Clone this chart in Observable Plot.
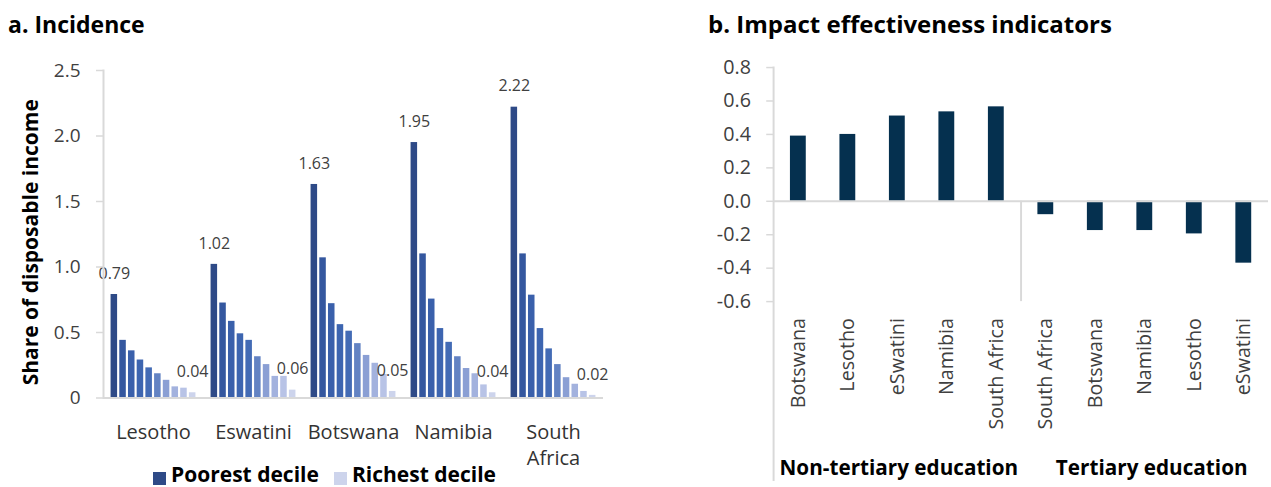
<!DOCTYPE html>
<html><head><meta charset="utf-8">
<script src="https://cdn.jsdelivr.net/npm/d3@7"></script>
<script src="https://cdn.jsdelivr.net/npm/@observablehq/plot@0.6"></script>
<style>
html,body{margin:0;padding:0;background:#fff;}
body{width:1271px;height:487px;overflow:hidden;position:relative;font-family:"Open Sans",sans-serif;}
.title{position:absolute;top:9px;font-weight:700;color:#000;white-space:nowrap;line-height:normal;}
.chart{position:absolute;top:50px;}
.sw{position:absolute;top:472px;width:13px;height:13px;}
.lt{position:absolute;top:460px;font-weight:700;font-size:21px;line-height:normal;color:#000;white-space:nowrap;}
</style></head>
<body>
<div class="title" style="left:8px;font-size:23px;top:8px">a. Incidence</div>
<div class="title" style="left:708px;font-size:24px;top:7px">b. Impact effectiveness indicators</div>
<div id="left" class="chart" style="left:0px"></div>
<div id="right" class="chart" style="left:640px"></div>
<div id="legend"></div>
<script>
// ---------- Panel a data ----------
const countriesA = ["Lesotho", "Eswatini", "Botswana", "Namibia", "South Africa"];
const deciles = [1, 2, 3, 4, 5, 6, 7, 8, 9, 10];
const lesotho     = [0.79, 0.44, 0.36, 0.29, 0.23, 0.185, 0.135, 0.085, 0.075, 0.04];
const eswatini    = [1.02, 0.725, 0.585, 0.49, 0.44, 0.315, 0.255, 0.165, 0.165, 0.06];
const botswana    = [1.63, 1.07, 0.72, 0.56, 0.51, 0.415, 0.325, 0.265, 0.18, 0.05];
const namibia     = [1.95, 1.10, 0.755, 0.53, 0.425, 0.315, 0.225, 0.185, 0.10, 0.04];
const southAfrica = [2.22, 1.10, 0.785, 0.53, 0.375, 0.255, 0.155, 0.105, 0.05, 0.02];
const decileColors = ["#2e4a87", "#34579f", "#3a60ab", "#3d65b0", "#436bb5", "#6383c3", "#8a9fd4", "#a3b2de", "#b8c3e6", "#cdd4ec"];
const yTicksA = [0, 0.5, 1, 1.5, 2, 2.5];
const yLabelA = "Share of disposable income";
const legendLabels = ["Poorest decile", "Richest decile"];

// ---------- Panel b data ----------
const groupNames = ["Non-tertiary education", "Tertiary education"];
const nonTertiaryCountries = ["Botswana", "Lesotho", "eSwatini", "Namibia", "South Africa"];
const nonTertiaryValues = [0.39, 0.40, 0.51, 0.535, 0.565];
const tertiaryCountries = ["South Africa", "Botswana", "Namibia", "Lesotho", "eSwatini"];
const tertiaryValues = [-0.08, -0.175, -0.175, -0.195, -0.37];
const yTicksB = [-0.6, -0.4, -0.2, 0, 0.2, 0.4, 0.6, 0.8];

const axisGray = "#d9d9d9";
const textGray = "#404040";
const font = "Open Sans";

// ---------- Panel a ----------
const seriesA = [lesotho, eswatini, botswana, namibia, southAfrica];
const rowsA = countriesA.flatMap((c, i) => seriesA[i].map((v, j) => ({country: c, decile: deciles[j], value: v})));
const labelRowsA = rowsA.filter(d => d.decile === deciles[0] || d.decile === deciles[deciles.length - 1]);

const left = Plot.plot({
  width: 640, height: 437,
  marginLeft: 103, marginRight: 37, marginTop: 20, marginBottom: 89.5,
  style: {fontFamily: font, fontSize: "16px", background: "transparent", color: textGray},
  fx: {domain: countriesA, paddingInner: 0, paddingOuter: 0, round: false, label: null},
  x: {domain: deciles, paddingInner: 0.25, paddingOuter: 0.87, round: false, axis: null},
  y: {domain: [0, 2.5], label: null},
  color: {type: "ordinal", domain: deciles, range: decileColors},
  marks: [
    Plot.barY(rowsA, {fx: "country", x: "decile", y: "value", fill: "decile"}),
    Plot.ruleY([0], {stroke: axisGray, strokeWidth: 2}),
    Plot.text(labelRowsA, {fx: "country", x: "decile", y: "value", text: d => d.value.toFixed(2),
      dy: -21, fontSize: 16, fill: textGray}),
    Plot.axisY({ticks: yTicksA, tickFormat: d => d === 0 ? "0" : d.toFixed(1), tickSize: 7, tickPadding: 16,
      stroke: axisGray, strokeWidth: 1.5, fill: textGray, fontSize: 19, label: null}),
    Plot.axisFx({anchor: "bottom", tickSize: 0, tickPadding: 22.6, fontSize: 20, fill: "#333",
      label: null, lineHeight: 1.3, tickFormat: d => d.replace(" ", "\n")}),
    Plot.frame({anchor: "left", facet: "super", stroke: axisGray, strokeWidth: 2}),
    Plot.text([{fx: countriesA[0], t: yLabelA}], {fx: "fx", text: "t", frameAnchor: "left", rotate: -90,
      textAnchor: "middle", lineAnchor: "middle", dx: -72, dy: 8, fontSize: 21, fontWeight: "bold", fill: "#000"})
  ]
});
document.getElementById("left").appendChild(left);

// ---------- Panel b ----------
const keysN = nonTertiaryCountries.map(c => "N|" + c);
const keysT = tertiaryCountries.map(c => "T|" + c);
const rowsB = [
  ...nonTertiaryCountries.map((c, i) => ({key: keysN[i], country: c, value: nonTertiaryValues[i]})),
  ...tertiaryCountries.map((c, i) => ({key: keysT[i], country: c, value: tertiaryValues[i]}))
];
const wB = 640, mlB = 135, mrB = 3;
const stepB = (wB - mlB - mrB) / rowsB.length;

const right = Plot.plot({
  width: wB, height: 437,
  marginLeft: mlB, marginRight: mrB, marginTop: 17.3, marginBottom: 0,
  style: {fontFamily: font, fontSize: "16px", background: "transparent", color: textGray},
  x: {domain: [...keysN, ...keysT], paddingInner: 0.68, paddingOuter: 0.34, round: false, axis: null},
  y: {domain: [yTicksB[0], yTicksB[yTicksB.length - 1]], range: [254.7, 17.3], label: null},
  marks: [
    Plot.barY(rowsB, {x: "key", y: "value", fill: "#05304f"}),
    Plot.ruleY([0], {stroke: axisGray, strokeWidth: 2}),
    Plot.frame({anchor: "left", stroke: axisGray, strokeWidth: 2}),
    Plot.ruleX([keysT[0]], {x: d => d, dx: -stepB / 2, y1: () => yTicksB[0], stroke: axisGray, strokeWidth: 2}),
    Plot.axisY({ticks: yTicksB, tickFormat: d => d.toFixed(1), tickSize: 7, tickPadding: 16,
      stroke: axisGray, strokeWidth: 1.5, fill: textGray, fontSize: 20, label: null}),
    Plot.text(rowsB, {x: "key", y: () => yTicksB[0], text: "country", rotate: -90, textAnchor: "end",
      lineAnchor: "middle", dy: 16.7, fontSize: 20, fill: textGray}),
    Plot.text([groupNames[0]], {x: () => keysN[2], text: d => d, frameAnchor: "bottom", lineAnchor: "middle",
      dy: -13.5, dx: 1.5, fontSize: 21, fontWeight: "bold", fill: "#000"}),
    Plot.text([groupNames[1]], {x: () => keysT[2], text: d => d, frameAnchor: "bottom", lineAnchor: "middle",
      dy: -13.5, dx: 7, fontSize: 21, fontWeight: "bold", fill: "#000"})
  ]
});
document.getElementById("right").appendChild(right);

// ---------- Legend ----------
const legend = document.getElementById("legend");
const legendPos = [153, 334];
legendLabels.forEach((lab, i) => {
  const sw = document.createElement("div");
  sw.className = "sw";
  sw.style.left = legendPos[i] + "px";
  sw.style.background = i === 0 ? decileColors[0] : decileColors[decileColors.length - 1];
  legend.appendChild(sw);
  const t = document.createElement("div");
  t.className = "lt";
  t.style.left = (legendPos[i] + 18) + "px";
  t.textContent = lab;
  legend.appendChild(t);
});
</script>
</body></html>
